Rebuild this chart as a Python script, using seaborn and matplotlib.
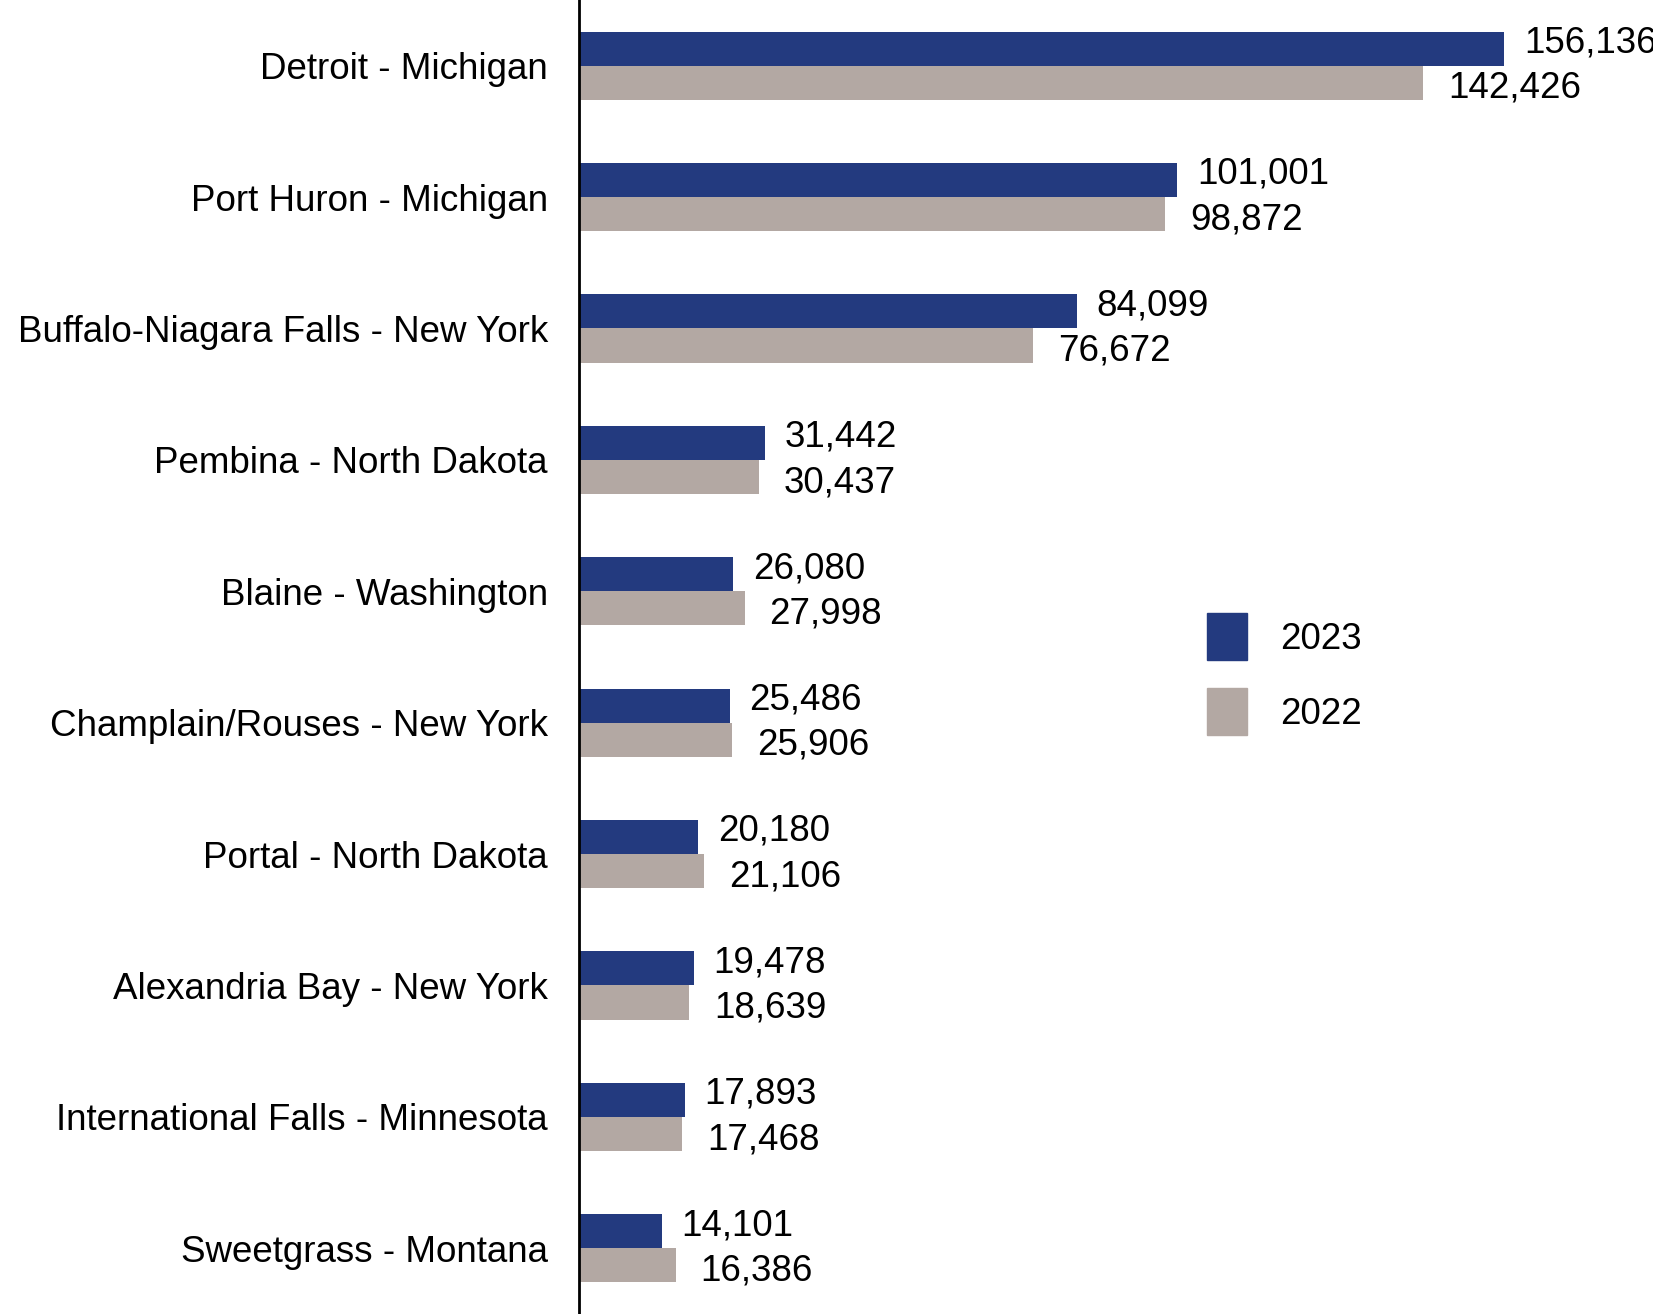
import matplotlib
matplotlib.use("Agg")
import matplotlib.pyplot as plt
import seaborn as sns
import pandas as pd
from matplotlib.patches import Patch

plt.rcParams["font.family"] = "Liberation Sans"

ports = ["Detroit - Michigan", "Port Huron - Michigan", "Buffalo-Niagara Falls - New York",
         "Pembina - North Dakota", "Blaine - Washington", "Champlain/Rouses - New York",
         "Portal - North Dakota", "Alexandria Bay - New York", "International Falls - Minnesota",
         "Sweetgrass - Montana"]
values_2023 = [156136, 101001, 84099, 31442, 26080, 25486, 20180, 19478, 17893, 14101]
values_2022 = [142426, 98872, 76672, 30437, 27998, 25906, 21106, 18639, 17468, 16386]
years = ["2023", "2022"]
colors = {"2023": "#233a7f", "2022": "#b3a8a3"}

df = pd.DataFrame({
    "port": ports * 2,
    "value": values_2023 + values_2022,
    "year": ["2023"] * len(ports) + ["2022"] * len(ports),
})

fig = plt.figure(figsize=(16.53, 13.14), dpi=100)
ax = fig.add_axes([0.35, 0.0, 0.65, 1.0])
sns.barplot(data=df, y="port", x="value", hue="year", hue_order=years,
            palette=colors, orient="h", width=0.52, ax=ax, legend=False,
            saturation=1)

ax.set_xlim(0, 181200)
ax.set_ylim(len(ports) - 0.5, -0.5)
for s in ["top", "right", "bottom"]:
    ax.spines[s].set_visible(False)
ax.spines["left"].set_linewidth(2)
ax.set_xticks([])
ax.set_xlabel("")
ax.set_ylabel("")
ax.tick_params(axis="y", length=0, labelsize=26.5, pad=22)

for i in range(len(ports)):
    ax.annotate(f"{values_2023[i]:,}", (values_2023[i], i - 0.13), xytext=(14, 4),
                textcoords="offset points", va="center", ha="left", fontsize=26.5)
    ax.annotate(f"{values_2022[i]:,}", (values_2022[i], i + 0.13), xytext=(18, -4),
                textcoords="offset points", va="center", ha="left", fontsize=26.5)

handles = [Patch(color=colors[y], label=y) for y in years]
fig.legend(handles=handles, loc="center left", bbox_to_anchor=(0.71, 0.487),
           frameon=False, fontsize=26.5, handlelength=1.1, handleheight=1.6,
           labelspacing=0.75, handletextpad=0.9)

fig.savefig("out.png", dpi=100)
